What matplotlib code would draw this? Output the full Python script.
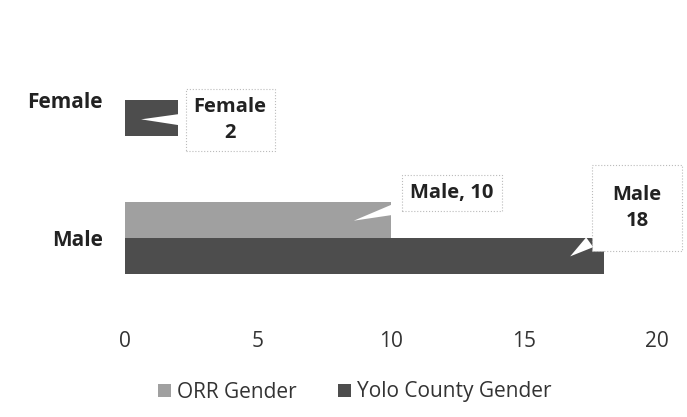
import matplotlib.pyplot as plt
import numpy as np

categories = ["Male", "Female"]
orr_gender = [10, 0]
yolo_gender = [18, 2]
xticks = [0, 5, 10, 15, 20]

plt.rcParams['font.family'] = ['Open Sans', 'DejaVu Sans']

fig = plt.figure(figsize=(6.87, 4.17), dpi=100)
ax = fig.add_axes([125/687, 1-300/417, 532/687, 240/417])

y = np.arange(len(categories))
h = 0.26
ax.barh(y + h/2, orr_gender, height=h, color="#a0a0a0", label="ORR Gender")
ax.barh(y - h/2, yolo_gender, height=h, color="#4d4d4d", label="Yolo County Gender")

ax.set_xlim(0, 20)
ax.set_ylim(-62/138, 1 + 40/138)
ax.set_xticks(xticks)
ax.set_yticks(y)
ax.set_yticklabels(categories, fontsize=15, fontweight="bold", color="#222222")
ax.tick_params(axis="x", length=0, pad=22, labelsize=15, labelcolor="#333333")
ax.tick_params(axis="y", length=0, pad=16)
for s in ax.spines.values():
    s.set_visible(False)

arrow = dict(arrowstyle="wedge,tail_width=0.6,shrink_factor=0.5", fc="white", ec="none")


def box(pad):
    return dict(boxstyle="square,pad=%s" % pad, fc="white", ec="#bbbbbb", ls=":", lw=0.8)


ax.annotate("Female\n2", xy=(0.5, 0.86), xytext=(3.95, 0.855), ha="center", va="center",
            fontsize=14.5, fontweight="bold", color="#222222", bbox=box(0.4),
            arrowprops=arrow, annotation_clip=False, linespacing=1.35)
ax.annotate("Male, 10", xy=(8.5, 0.12), xytext=(12.3, 0.326), ha="center", va="center",
            fontsize=14.5, fontweight="bold", color="#222222", bbox=box(0.4),
            arrowprops=arrow, annotation_clip=False)
ax.annotate("Male\n18", xy=(16.65, -0.145), xytext=(19.25, 0.217), ha="center", va="center",
            fontsize=14.5, fontweight="bold", color="#222222", bbox=box(1.0),
            arrowprops=arrow, annotation_clip=False, linespacing=1.35)

fig.legend(loc="center", bbox_to_anchor=(355/687, 1-392/417), ncol=2, frameon=False,
           fontsize=15, handlelength=0.6, handleheight=0.6, handletextpad=0.3,
           columnspacing=2.0, labelcolor="#333333")

fig.savefig("out.png", dpi=100)
